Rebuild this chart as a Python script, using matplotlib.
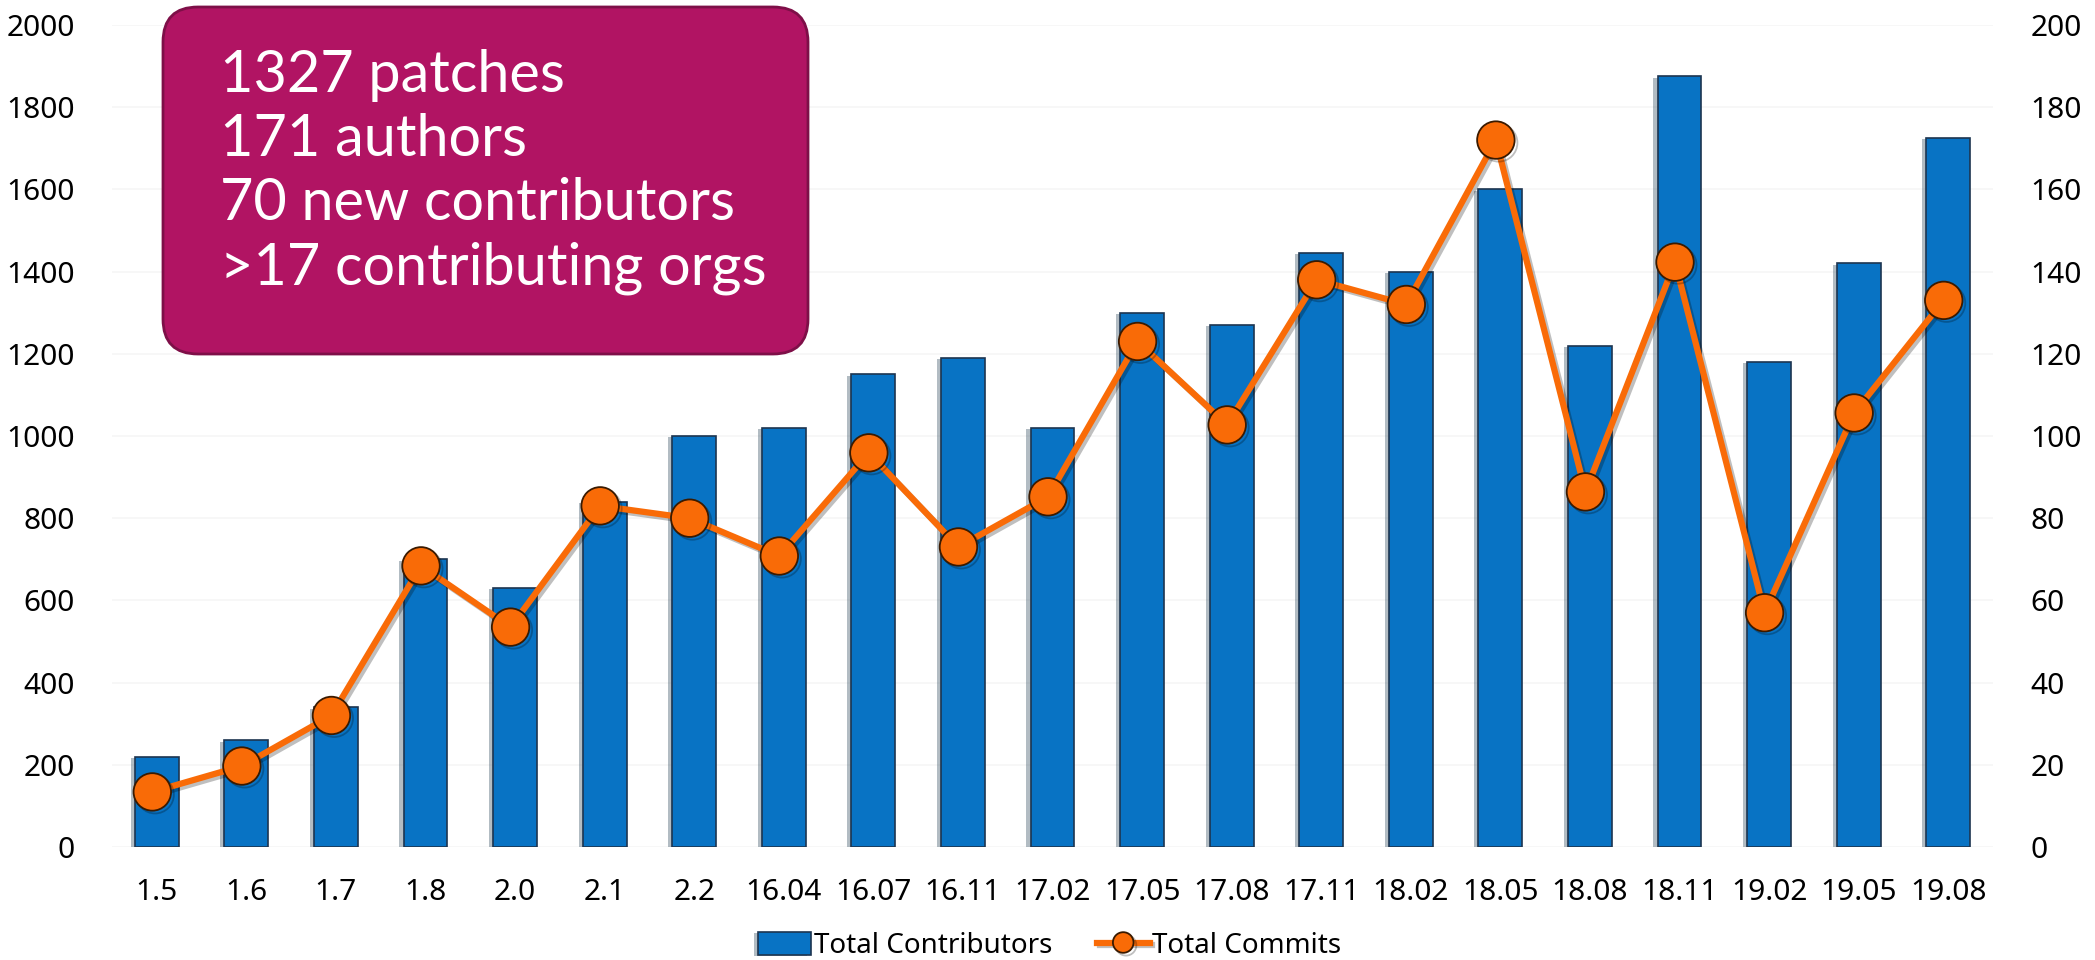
import numpy as np
import matplotlib.pyplot as plt
import matplotlib.patheffects as pe
from matplotlib.patches import FancyBboxPatch


releases = ['1.5', '1.6', '1.7', '1.8', '2.0', '2.1', '2.2', '16.04', '16.07', '16.11',
            '17.02', '17.05', '17.08', '17.11', '18.02', '18.05', '18.08', '18.11',
            '19.02', '19.05', '19.08']
contributors = [220, 260, 340, 700, 630, 840, 1000, 1020, 1150, 1190,
                1020, 1300, 1270, 1445, 1400, 1600, 1220, 1875,
                1180, 1420, 1725]
commits = [13.4, 19.7, 32, 68.4, 53.5, 83, 80, 70.8, 95.9, 73,
           85.2, 123, 102.7, 138, 132, 172, 86.4, 142.3,
           57, 105.6, 133]
box_lines = ['1327 patches', '171 authors', '70 new contributors', '>17 contributing orgs']

blue = '#0873C4'
orange = '#F96B07'
magenta = '#B11463'

plt.rcParams['font.family'] = ['Noto Sans', 'DejaVu Sans']

fig = plt.figure(figsize=(20.95, 9.6), dpi=100)
ax = fig.add_axes([112/2095, 1-847/960, (1993-112)/2095, (847-25)/960])
ax2 = ax.twinx()

x = np.arange(len(releases))
bars = ax.bar(x, contributors, width=0.49, color=blue, edgecolor='#1d3550',
              linewidth=1.2, zorder=2, label='Total Contributors')
for b in bars:
    b.set_path_effects([pe.SimplePatchShadow(offset=(-3, -1), alpha=0.3), pe.Normal()])

line, = ax2.plot(x - 0.05, commits, color=orange, linewidth=4.5, marker='o', markersize=27,
                 markerfacecolor=orange, markeredgecolor='#3a1a00', markeredgewidth=1.3,
                 label='Total Commits', zorder=3,
                 path_effects=[pe.SimpleLineShadow(offset=(2, -2), alpha=0.25), pe.Normal()])

ax.set_xlim(-0.5, len(releases) - 0.5)
ax.set_ylim(0, 2000)
ax2.set_ylim(0, 200)
ax.set_yticks(np.arange(0, 2001, 200))
ax2.set_yticks(np.arange(0, 201, 20))
ax.set_xticks(x)
ax.set_xticklabels(releases)
ax.grid(axis='y', color='#f6f6f6', linewidth=1.2, zorder=0)
ax.set_axisbelow(True)
for a in (ax, ax2):
    for s in a.spines.values():
        s.set_visible(False)
ax.tick_params(axis='y', length=0, labelsize=21.5, pad=27)
ax.tick_params(axis='x', length=0, labelsize=21.5, pad=22)
ax2.tick_params(axis='y', length=0, labelsize=21.5, pad=27)

fig.legend(handles=[bars, line], loc='center', bbox_to_anchor=(1050/2095, 1-946/960),
           ncol=2, frameon=False, fontsize=20, handlelength=1.9, handleheight=0.9,
           columnspacing=1.6, handletextpad=0.1, markerscale=0.55)

box = FancyBboxPatch((1.63, 9.6-3.54), 6.45, 3.47, boxstyle='round,pad=0,rounding_size=0.35',
                     transform=fig.dpi_scale_trans, facecolor=magenta, edgecolor='#7e0f48',
                     linewidth=2, zorder=5)
fig.add_artist(box)
for i, t in enumerate(box_lines):
    fig.text(220/2095, 1-(76 + 64*i)/960, t, color='white', fontsize=41.5,
             family=['Lato', 'DejaVu Sans'], va='center', ha='left', zorder=6)

fig.savefig('out.png', dpi=100)
